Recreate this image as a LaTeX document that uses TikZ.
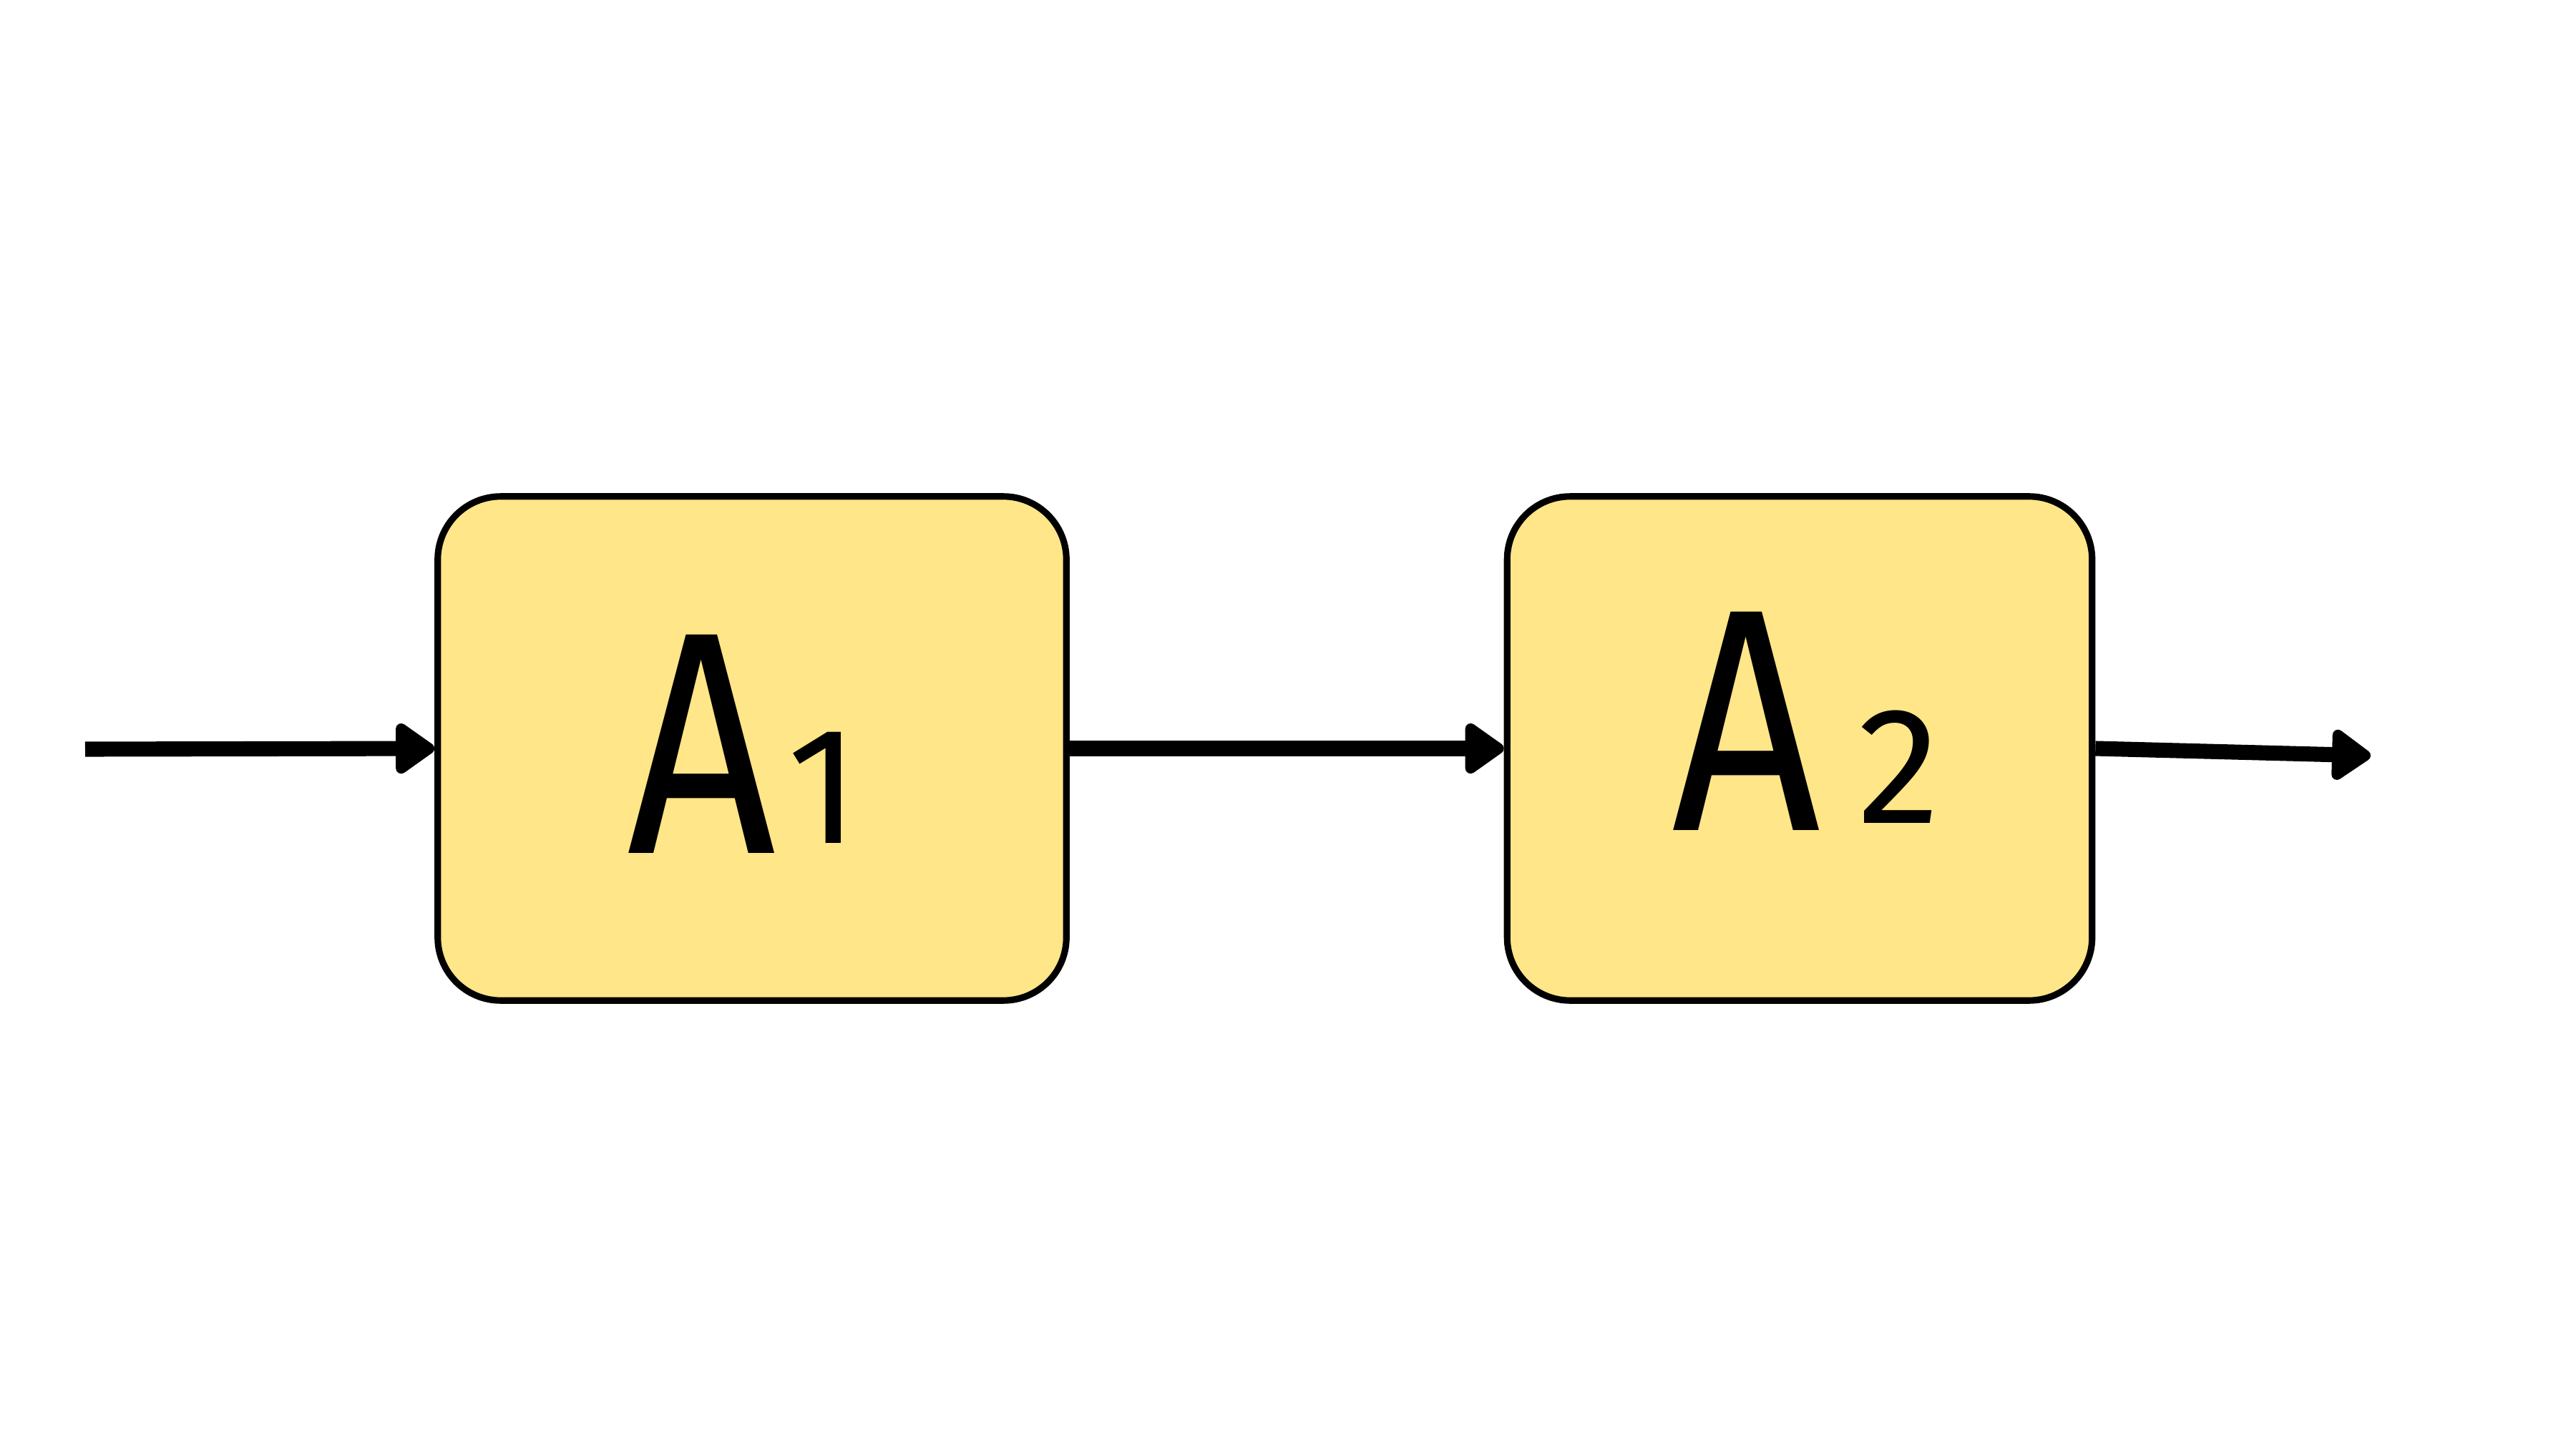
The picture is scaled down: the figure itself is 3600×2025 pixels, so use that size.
\documentclass[tikz,border=0pt]{standalone}
\usepackage{fontspec}
\setmainfont{Fira Sans}
\usetikzlibrary{arrows.meta}
\definecolor{boxfill}{RGB}{255,230,136}
\tikzset{
  blockbox/.style={draw=black, line width=2.6pt, fill=boxfill, rounded corners=0.88cm,
    minimum height=7.04cm, inner sep=0pt},
  flow/.style={line width=6pt, -{Triangle[length=0.6cm,width=0.8cm,round]}},
  bigletter/.style={inner sep=0pt, anchor=base west, font=\fontsize{126pt}{126pt}\selectfont},
  smalldigit/.style={inner sep=0pt, anchor=base west, font=\fontsize{66pt}{66pt}\selectfont},
}
\begin{document}
\begin{tikzpicture}[x=0.01cm, y=-0.01cm]
  \useasboundingbox (0,0) rectangle (3600,2025);
  % the two blocks
  \node[blockbox, minimum width=8.78cm] (b1) at (1051,1046) {};
  \node[blockbox, minimum width=8.17cm] (b2) at (2515,1046) {};
  % block labels
  \node[bigletter, xscale=0.82] (l1) at (876,1192) {A};
  \node[smalldigit] (s1) at (1100,1178) {1};
  \node[bigletter, xscale=0.82] (l2) at (2336,1160) {A};
  \node[smalldigit] (s2) at (2596,1150) {2};
  % signal flow
  \coordinate (src) at (119,1047);
  \coordinate (snk) at (3313,1056);
  \draw[flow] (src) -- (b1.west);
  \draw[flow] (b1.east) -- (b2.west);
  \draw[flow] (b2.east) -- (snk);
\end{tikzpicture}
\end{document}
